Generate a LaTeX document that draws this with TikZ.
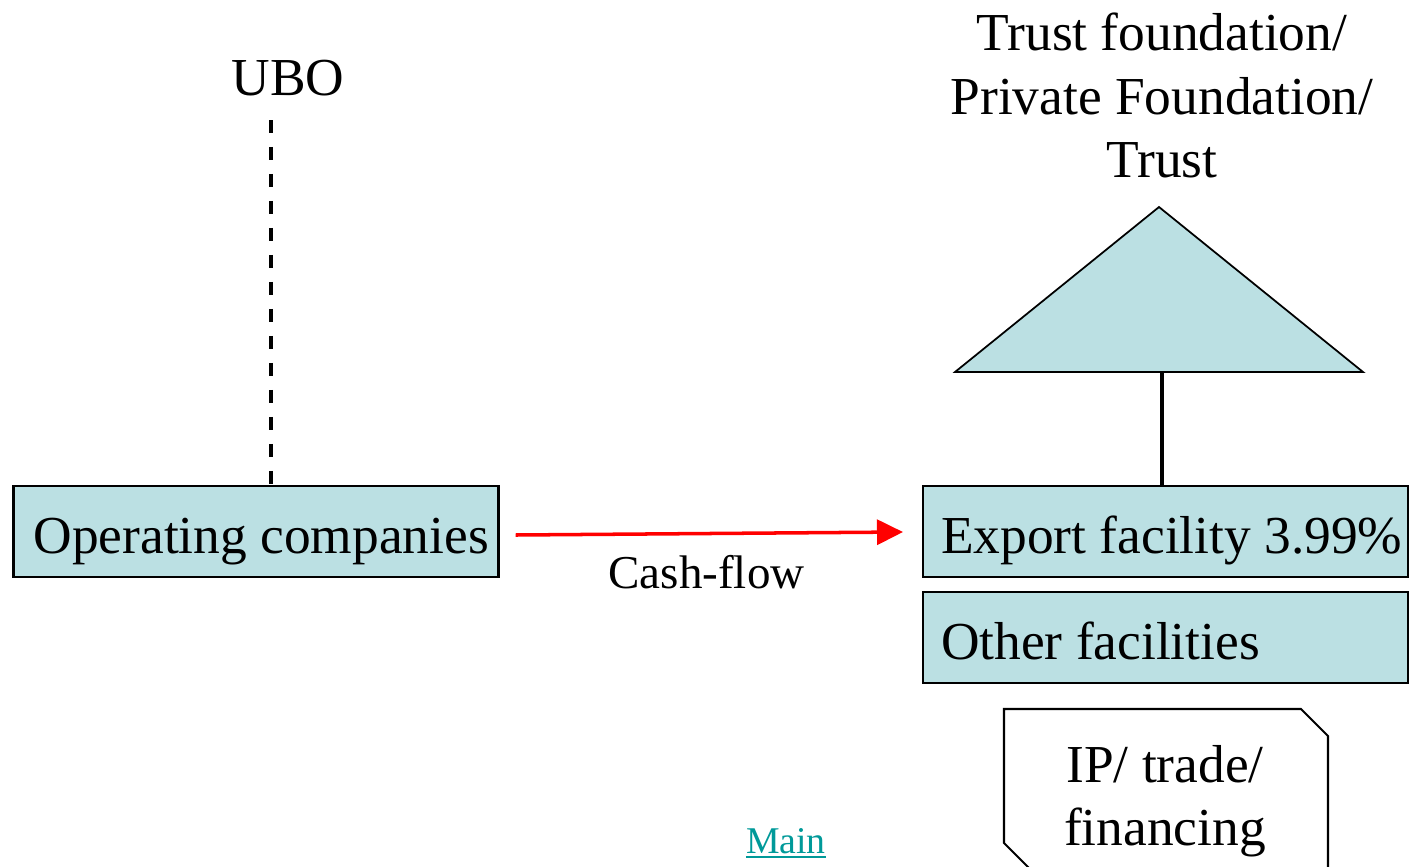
\documentclass[tikz,border=0pt]{standalone}
\usepackage{fontspec}
\setmainfont{Liberation Serif}
\usetikzlibrary{arrows.meta}
\definecolor{boxblue}{HTML}{BBE0E3}
\definecolor{linkteal}{HTML}{009999}
\newcommand{\lbl}[1]{\makebox[8.98cm][l]{#1}}
\begin{document}
\begin{tikzpicture}[x=0.02cm,y=-0.02cm,
    big/.style={font=\fontsize{30.4}{36}\selectfont},
    box/.style={big,draw,line width=1.2pt,fill=boxblue,minimum height=1.82cm,
      inner xsep=0.36cm,text height=0.88cm,text depth=0pt},
    flow/.style={red,line width=2pt,-{Triangle[length=0.52cm,width=0.5cm]}}]
      \clip (0,0) rectangle (1409,866);
      \node [big,anchor=base] (ubo) at (288,95) {UBO};
      \node [box] (op) at (256,531.5) {\lbl{\hspace{0.04cm}Operating companies}};
      \node [box] (exp) at (1165.5,531.5) {\lbl{Export facility 3.99\%}};
      \node [box] (oth) at (1165.5,637.5) {\lbl{Other facilities}};
      \node [font=\fontsize{26.8}{32}\selectfont,anchor=base] (cf) at (706.5,588) {Cash-flow};
      \node [big,align=center] (trust) at (1162,95.5) {Trust foundation/\\Private Foundation/\\Trust};
      \node [big,align=center] (ip) at (1165,801.5) {IP/ trade/\\financing};
      \node [font=\fontsize{21.5}{26}\selectfont,text=linkteal,anchor=base,inner xsep=0pt] (main) at (786,853) {Main};
      \coordinate (apex) at (1159,207);
      \coordinate (tl) at (955,372);
      \coordinate (tr) at (1363,372);
      \coordinate (stem) at (1162,372);
      \coordinate (ubotail) at (271,120);
      \draw [fill=boxblue,line width=1pt] (apex) -- (tl) -- (tr) -- cycle;
      \draw [line width=1.2pt] (1004,709) -- (1301,709) -- (1328,736) -- (1328,870)
        -- (1031,870) -- (1004,843) -- cycle;
      \draw [line width=2.2pt] (stem) -- (stem |- exp.north);
      \draw [line width=2.4pt,dash pattern=on 0.26cm off 0.28cm] (ubotail) -- (ubotail |- op.north);
      \draw [flow] ([shift={(16,3.5)}]op.east) -- ([shift={(-19,0.5)}]exp.west);
      \draw [linkteal,line width=1.2pt] ([yshift=-0.08cm]main.base west) -- ([yshift=-0.08cm]main.base east);
    \end{tikzpicture}
\end{document}
